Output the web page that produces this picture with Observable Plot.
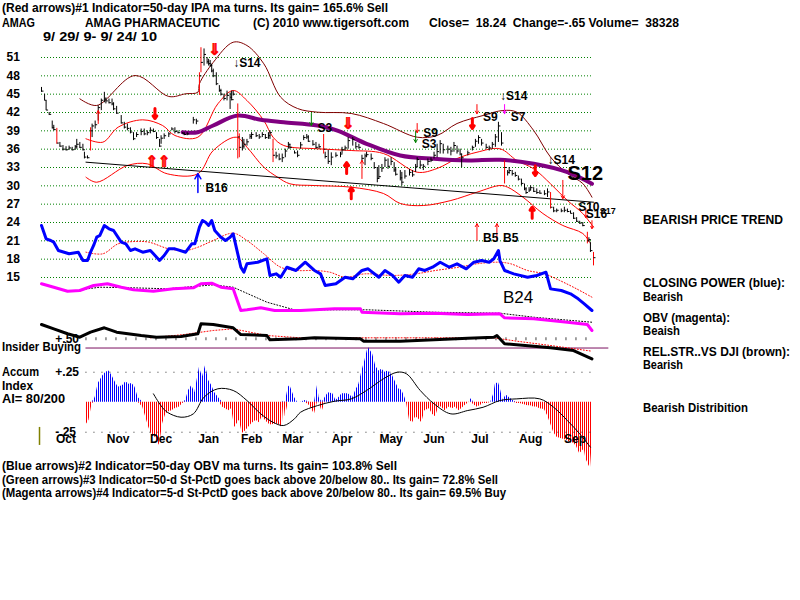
<!DOCTYPE html>
<html><head><meta charset="utf-8">
<script src="https://cdn.jsdelivr.net/npm/d3@7"></script>
<script src="https://cdn.jsdelivr.net/npm/@observablehq/plot@0.6"></script>
<style>
body{margin:0;background:#fff;width:800px;height:600px;position:relative;overflow:hidden;font-family:"Liberation Sans",Arial,sans-serif;}
.t{position:absolute;white-space:pre;font-size:12px;font-weight:bold;line-height:14px;color:#000;transform-origin:left center;}
#chart{position:absolute;left:0;top:48px;}
</style></head><body>
<div id="chart"></div>
<div class="t" style="left:2px;top:1px" data-w="386">(Red arrows)#1 Indicator=50-day IPA ma turns. Its gain= 165.6% Sell</div>
<div class="t" style="left:2px;top:16px" data-w="33">AMAG</div>
<div class="t" style="left:85px;top:16px" data-w="135">AMAG PHARMACEUTIC</div>
<div class="t" style="left:253px;top:16px" data-w="156">(C) 2010 www.tigersoft.com</div>
<div class="t" style="left:429px;top:16px" data-w="250">Close=  18.24  Change=-.65 Volume=  38328</div>
<div class="t" style="left:43px;top:30px" data-w="114">9/ 29/ 9- 9/ 24/ 10</div>
<div class="t" style="left:643px;top:213px" data-w="140">BEARISH PRICE TREND</div>
<div class="t" style="left:643px;top:276px" data-w="142">CLOSING POWER (blue):</div>
<div class="t" style="left:643px;top:290px" data-w="40">Bearish</div>
<div class="t" style="left:643px;top:311px" data-w="87">OBV (magenta):</div>
<div class="t" style="left:643px;top:324px" data-w="37">Beaish</div>
<div class="t" style="left:643px;top:345px" data-w="147">REL.STR..VS DJI (brown):</div>
<div class="t" style="left:643px;top:358px" data-w="40">Bearish</div>
<div class="t" style="left:643px;top:401px" data-w="105">Bearish Distribition</div>
<div class="t" style="left:2px;top:340px" data-w="79">Insider Buying</div>
<div class="t" style="left:2px;top:365px" data-w="37">Accum</div>
<div class="t" style="left:2px;top:379px" data-w="31">Index</div>
<div class="t" style="left:2px;top:392px" data-w="63">AI= 80/200</div>
<div class="t" style="left:2px;top:459px" data-w="395">(Blue arrows)#2 Indicator=50-day OBV ma turns. Its gain= 103.8% Sell</div>
<div class="t" style="left:2px;top:473px" data-w="496">(Green arrows)#3 Indicator=50-d St-PctD goes back above 20/below 80.. Its gain= 72.8% Sell</div>
<div class="t" style="left:2px;top:486px" data-w="504">(Magenta arrows)#4 Indicator=5-d St-PctD goes back above 20/below 80.. Its gain= 69.5% Buy</div>
<script>
// ---------- DATA (x = calendar day since 9/29/2009, price units) ----------
const gridLevels = [15,18,21,24,27,30,33,36,39,42,45,48,51];
const months = ["Oct","Nov","Dec","Jan","Feb","Mar","Apr","May","Jun","Jul","Aug","Sep"];
const monthDays = [16,50,78,109,137,164,196,228,256,286,319,348];

// [day, high, low, close]
const bars = [[0,46.1,45.3,45.5],[2,45.0,43.9,44.0],[3,43.9,42.3,42.4],[5,42.0,41.5,41.7],[7,40.6,39.3,39.5],[8,39.9,39.0,39.2],[10,39.4,36.8,37.0],[12,37.1,36.3,36.5],[14,36.6,35.7,36.0],[16,36.4,35.7,35.9],[18,36.5,35.8,36.2],[20,36.3,35.7,35.9],[22,36.6,35.8,36.4],[23,37.6,36.0,36.8],[25,37.1,36.1,36.3],[27,36.8,35.7,35.9],[28,35.5,34.4,34.7],[30,34.9,34.4,34.6],[32,39.5,35.7,39.0],[33,40.1,37.9,39.8],[35,40.6,39.3,40.0],[37,43.1,40.6,42.8],[39,44.2,42.3,44.0],[41,45.3,43.6,44.2],[42,44.4,43.4,43.9],[44,44.2,43.4,43.6],[46,44.2,43.1,43.4],[47,43.6,42.3,42.6],[49,43.0,41.7,41.9],[52,41.5,40.1,40.3],[54,40.4,39.3,39.6],[56,40.1,39.0,39.4],[58,39.5,38.5,38.8],[60,38.7,37.4,37.7],[62,38.7,37.9,38.4],[65,39.3,38.2,38.9],[67,39.3,38.2,38.5],[69,39.0,38.2,38.7],[71,39.5,38.5,39.1],[73,39.3,38.7,38.9],[75,38.7,37.6,37.9],[77,37.6,36.3,36.5],[78,38.2,36.8,37.8],[80,38.5,37.6,38.2],[83,38.7,37.9,38.5],[85,39.5,39.0,39.3],[87,39.5,38.5,38.9],[89,39.0,38.5,38.7],[92,38.7,38.5,38.6],[93,38.7,38.2,38.4],[95,38.7,38.2,38.5],[99,41.2,40.1,40.8],[101,40.9,40.0,40.6],[103,48.5,44.8,48.0],[104,52.6,48.5,50.2],[106,52.4,49.6,51.5],[108,51.0,49.9,50.3],[109,50.7,49.6,50.0],[110,50.5,49.4,49.7],[111,49.9,48.5,48.8],[112,49.1,47.7,48.0],[114,48.5,46.4,46.7],[116,46.4,45.3,45.6],[117,45.8,44.7,45.0],[119,45.0,43.9,44.3],[121,45.5,43.9,44.8],[123,45.2,42.5,44.5],[124,45.5,43.9,44.1],[125,45.5,44.7,45.0],[128,43.4,34.4,38.0],[129,38.5,34.6,36.3],[131,37.9,35.7,36.5],[132,37.6,36.0,36.8],[134,37.6,36.5,37.2],[136,38.4,37.6,38.1],[137,38.7,37.6,38.4],[140,38.7,37.9,38.2],[142,38.4,37.6,38.0],[144,38.7,37.9,38.4],[146,38.4,37.6,37.9],[148,38.7,37.6,38.2],[149,39.0,37.6,38.7],[151,37.6,33.8,35.0],[153,35.5,34.4,34.9],[155,35.2,34.1,34.4],[157,35.2,33.8,34.6],[159,36.0,34.6,35.7],[161,37.1,36.0,36.8],[162,36.8,36.0,36.3],[165,35.7,35.2,35.4],[167,35.7,34.6,35.0],[169,37.1,36.0,36.7],[171,38.2,37.4,37.9],[173,38.4,37.6,38.0],[174,38.2,37.1,37.3],[177,37.4,36.5,36.8],[179,37.1,36.0,36.3],[181,36.8,36.0,36.4],[184,38.4,35.2,36.0],[185,35.5,34.4,34.8],[187,35.8,33.5,34.0],[189,35.4,33.3,34.7],[192,35.4,34.6,35.0],[195,35.5,34.6,35.2],[196,36.3,35.2,35.9],[198,36.5,35.7,36.2],[200,37.9,36.0,37.4],[203,37.9,36.5,37.6],[205,37.1,36.0,36.4],[207,36.8,36.0,36.3],[209,35.0,34.0,34.5],[211,35.2,33.3,34.9],[212,35.5,34.6,35.1],[215,35.2,34.1,34.5],[217,33.8,32.7,33.0],[219,33.0,30.5,31.2],[220,33.3,31.1,31.5],[222,33.5,32.2,32.9],[224,34.6,33.0,34.2],[226,34.4,32.7,33.2],[228,34.6,33.3,34.0],[230,33.8,32.2,32.6],[231,33.0,31.6,31.9],[234,32.5,30.8,31.3],[235,32.2,30.0,30.6],[237,32.5,31.1,31.6],[240,32.7,31.6,32.2],[242,32.5,31.4,31.8],[244,33.5,32.2,33.1],[245,34.6,33.0,34.3],[247,34.1,32.7,33.4],[249,33.5,32.5,33.2],[252,34.4,33.3,34.0],[254,34.6,33.8,34.2],[256,35.5,34.4,35.0],[258,36.8,34.6,35.6],[260,37.4,35.2,36.9],[262,36.8,35.2,35.9],[265,36.5,35.2,36.0],[267,36.3,34.9,35.7],[269,37.1,35.5,36.6],[271,36.5,35.2,35.7],[273,36.0,34.9,35.2],[274,35.2,33.0,34.6],[278,35.7,34.9,35.4],[281,36.5,35.7,36.3],[283,37.6,36.3,37.3],[285,38.2,36.8,37.9],[287,37.6,36.5,37.0],[290,36.8,36.0,36.3],[292,36.5,35.7,36.2],[294,37.1,36.0,36.8],[296,38.4,36.3,38.0],[298,40.4,37.1,39.8],[300,38.7,36.5,37.0],[302,34.1,30.3,33.0],[304,32.5,31.6,32.2],[305,33.0,31.9,32.5],[307,32.5,31.6,32.0],[309,32.2,31.4,31.7],[311,31.6,30.8,31.1],[313,31.1,30.0,30.4],[315,30.3,29.2,29.5],[316,29.7,28.6,28.9],[318,29.7,28.9,29.3],[319,30.0,29.2,29.7],[321,29.7,28.9,29.1],[323,29.5,28.6,28.9],[325,29.2,28.6,28.8],[328,29.2,28.4,28.7],[330,29.5,28.1,29.0],[332,28.9,26.2,26.5],[334,26.5,25.6,25.9],[336,26.2,25.6,26.0],[339,26.2,25.6,25.9],[341,26.5,25.6,26.0],[343,26.2,25.6,25.8],[345,25.9,25.4,25.5],[347,25.6,24.5,24.7],[349,24.8,24.0,24.2],[351,24.2,23.7,23.9],[353,24.0,23.3,23.5],[356,22.4,20.5,21.0],[357,21.5,20.8,21.2],[358,20.7,19.1,19.4],[360,19.1,16.9,18.24]];
const signalDays = [10,32,103,104,128,129,151,184,302,332,356,360];

const upperOuter = [[25,44.24],[36,43.15],[61,48.05],[83,44.62],[94,45.06],[102,45.32],[103,46.7],[112,50.2],[125,53.5],[134,52.96],[145,49.97],[156,44.5],[167,42.65],[180,42.05],[202,41.84],[223,40.2],[245,37.96],[258,38.24],[271,40.2],[288,41.51],[301,42.33],[310,42.05],[321,39.05],[332,34.69],[343,32.02],[353,30.38],[359,28.14]];
const upperInner = [[29,37.7],[40,37.14],[50,39.6],[66,40.8],[79,39.87],[87,38.24],[102,37.96],[115,43.42],[125,45.6],[134,43.96],[145,40.69],[151,37.96],[158,36.6],[180,36.06],[202,35.78],[223,35.29],[245,32.23],[258,32.84],[271,34.47],[284,35.5],[299,36.06],[310,34.15],[321,32.79],[332,30.33],[343,27.6],[353,25.47],[360,23.23]];
const lowerInner = [[29,31.41],[36,30.59],[56,33.33],[69,33.6],[82,31.97],[102,31.97],[112,35.78],[127,37.96],[134,36.32],[145,33.05],[154,31.41],[162,30.33],[178,30.05],[202,29.78],[223,28.75],[234,27.11],[249,26.78],[267,27.6],[284,28.96],[299,30.05],[304,29.78],[314,28.14],[327,25.47],[340,23.51],[353,22.2],[358,20.56]];
const maPrice = [[92,38.78],[102,38.78],[112,39.87],[128,41.51],[143,40.8],[158,40.41],[180,39.87],[193,39.05],[212,36.88],[234,34.96],[256,34.42],[278,34.15],[299,34.26],[321,33.6],[343,32.23],[359,30.33]];
const trendLine = [[29,33.87],[360,27.32]];

const closingPower = [[0,23.51],[3,21.33],[6,21.05],[8,20.78],[11,19.42],[18,18.88],[24,19.14],[27,17.78],[30,17.78],[32,19.14],[34,20.24],[36,21.6],[38,21.87],[41,23.51],[44,22.97],[47,22.69],[52,20.78],[55,20.51],[58,19.42],[61,19.69],[66,19.14],[71,19.42],[73,18.88],[77,17.78],[80,18.6],[83,19.69],[87,19.69],[94,19.14],[98,20.51],[100,20.51],[103,23.23],[105,24.33],[107,24.05],[109,23.51],[111,24.33],[113,22.69],[117,21.6],[120,21.05],[123,21.6],[125,22.15],[128,18.88],[130,16.7],[132,15.87],[134,17.24],[141,17.5],[147,18.06],[149,15.33],[153,15.6],[156,15.05],[160,16.68],[166,16.15],[172,17.5],[178,16.15],[182,15.6],[185,13.69],[192,13.97],[198,15.05],[203,14.79],[209,16.15],[213,16.42],[220,15.05],[224,16.15],[229,15.33],[233,14.23],[237,15.33],[242,15.05],[246,16.42],[250,16.15],[255,16.68],[260,17.5],[266,16.68],[271,17.24],[277,16.42],[282,17.5],[287,17.78],[292,17.5],[295,18.06],[298,19.42],[299,17.78],[302,16.15],[308,15.6],[317,15.05],[323,15.33],[329,15.87],[332,13.14],[339,12.87],[345,12.33],[350,11.51],[354,10.69],[359,9.6]];
const closingPowerMA = [[29,19.14],[40,18.88],[50,20.51],[61,20.89],[70,20.78],[83,19.69],[94,19.42],[102,19.96],[112,21.05],[125,22.25],[134,21.05],[145,18.88],[156,16.68],[167,16.15],[178,16.15],[188,15.87],[198,15.05],[211,15.6],[229,15.33],[244,15.6],[257,16.15],[272,16.68],[284,17.24],[298,17.5],[306,17.24],[317,16.15],[328,15.6],[338,14.51],[349,13.14],[359,11.78]];
const obv = [[0,13.97],[8,13.41],[17,12.76],[25,12.87],[34,13.69],[43,13.97],[52,13.41],[60,12.99],[73,12.76],[86,13.15],[99,13.31],[104,13.97],[111,14.07],[117,13.41],[125,13.15],[130,9.6],[134,9.71],[143,10.04],[152,9.6],[169,9.6],[191,9.88],[208,9.88],[209,9.32],[234,9.06],[256,9.16],[278,8.94],[299,9.06],[302,8.4],[321,8.24],[343,7.68],[356,7.31],[359,6.33]];
const obvMA = [[25,12.99],[38,13.41],[60,13.31],[82,13.15],[112,13.8],[125,13.41],[147,10.96],[165,9.71],[213,9.71],[256,9.32],[299,9.16],[321,8.5],[359,7.68]];
const relStrength = [[0,7.31],[8,6.6],[17,5.79],[25,5.23],[32,6.05],[41,6.77],[49,6.05],[65,5.51],[75,5.23],[91,5.35],[102,5.79],[104,7.42],[112,7.31],[125,6.77],[130,5.67],[147,5.51],[149,4.8],[169,4.97],[178,5.13],[208,4.97],[210,4.58],[234,4.58],[256,4.8],[278,5.07],[295,5.23],[297,5.51],[302,4.15],[321,3.76],[332,3.5],[347,3.05],[359,1.69]];
const relStrengthMA = [[71,5.13],[93,5.67],[112,6.33],[125,6.6],[147,5.51],[169,5.13],[295,5.13],[310,4.58],[332,3.87],[359,2.94]];
const insiderLevel = 3.46, insiderSpan = [29,370], plus50Level = 4.97;

// Accumulation index [day, value]
const accum = [[29,-0.19],[31,-0.15],[33,-0.01],[35,0.04],[37,0.155],[40,0.22],[42,0.25],[44,0.26],[46,0.22],[48,0.17],[50,0.125],[53,0.14],[55,0.17],[57,0.15],[59,0.155],[61,0.125],[63,0.04],[66,-0.04],[68,-0.125],[70,-0.21],[72,-0.28],[74,-0.29],[77,-0.36],[79,-0.18],[81,-0.1],[83,-0.08],[85,-0.07],[87,-0.055],[90,-0.04],[92,-0.01],[94,0.015],[96,0.1],[98,0.14],[100,0.08],[103,0.29],[105,0.21],[107,0.305],[109,0.18],[111,0.14],[113,0.08],[116,0.03],[118,-0.04],[120,-0.055],[122,-0.07],[124,-0.055],[126,-0.21],[129,-0.15],[131,-0.26],[133,-0.24],[135,-0.21],[137,-0.18],[140,-0.15],[142,-0.17],[144,-0.12],[146,-0.15],[148,-0.18],[150,-0.19],[153,-0.18],[155,-0.19],[157,-0.21],[158,0.01],[159,-0.12],[161,0.125],[162,0.14],[165,0.04],[167,0.0],[169,0.0],[172,0.015],[175,-0.03],[178,-0.1],[180,0.14],[181,0.04],[183,-0.08],[185,0.04],[187,0.08],[190,0.07],[192,0.015],[194,0.04],[196,0.07],[198,0.07],[200,0.07],[203,0.04],[205,0.1],[207,0.15],[209,0.26],[211,0.35],[213,0.46],[216,0.4],[218,0.3],[220,0.26],[222,0.275],[224,0.25],[226,0.26],[229,0.22],[231,0.165],[233,0.11],[235,0.1],[237,0.04],[238,0.0],[240,-0.15],[242,-0.17],[244,-0.12],[246,-0.14],[248,-0.17],[250,-0.07],[253,-0.055],[255,-0.1],[257,-0.12],[259,-0.04],[261,-0.04],[263,-0.07],[266,-0.04],[268,-0.055],[270,-0.04],[272,-0.07],[274,-0.055],[276,-0.03],[279,0.0],[280,0.03],[282,-0.02],[284,-0.04],[286,-0.03],[288,-0.01],[291,-0.01],[293,0.0],[295,0.07],[296,0.15],[298,0.165],[299,0.125],[301,0.015],[303,0.06],[305,0.04],[308,0.01],[310,-0.01],[312,-0.01],[315,-0.02],[317,-0.03],[319,-0.03],[321,-0.04],[323,-0.04],[325,-0.055],[328,-0.06],[330,-0.11],[332,-0.18],[334,-0.25],[336,-0.29],[338,-0.3],[341,-0.31],[343,-0.32],[345,-0.34],[347,-0.34],[349,-0.37],[351,-0.43],[354,-0.39],[355,-0.47],[358,-0.555],[359,-0.37]];
const accumMA = [[73,0.07],[78,-0.03],[82,-0.083],[91,-0.125],[99,-0.097],[106,0.042],[115,0.112],[125,0.098],[134,0.014],[143,-0.097],[151,-0.167],[158,-0.194],[165,-0.138],[169,-0.083],[180,-0.028],[191,0.008],[202,0.028],[212,0.098],[223,0.195],[232,0.25],[238,0.237],[247,0.098],[256,-0.013],[267,-0.097],[278,-0.069],[288,-0.042],[299,0.014],[310,0.028],[325,0.028],[334,-0.042],[343,-0.153],[351,-0.263],[358,-0.375]];
const accumLevels = [0.25,-0.25];

// signals: [day, from, to]
const thickRedArrows = [[74,42.65,41.0],[199,32.0,33.8],[202,27.9,29.7],[281,41.0,39.4],[322,33.3,31.7],[320,24.7,26.5]];
const thinRedArrows = [[37,40.2,42.3],[209,31.2,34.15],[245,40.2,38.7],[284,43.3,41.8],[340,30.9,27.9],[355,26.3,24.8],[359,24.3,23.0],[284,21.05,23.8],[297,21.05,23.8]];
const thinGreenArrows = [[176,41.84,39.87],[244,38.9,37.1]];
const thinMagentaArrows = [[302,43.3,41.8]];
const blueArrows = [[102,28.9,32.0]];
const hollowRedArrows = [[72,34.0,"⇑"],[80,34.0,"⇑"],[113,52.3,"⇓"],[200,40.2,"⇓"]];
const signalLabels = [[125,50.1,"↓S14"],[180,39.4,"S3"],[249,38.7,"S9"],[248,36.9,"S3"],[288,41.3,"S9"],[299,44.6,"↓S14"],[306,41.3,"S7"],[330,34.15,"↓S14"],[350,26.45,"S10"],[355,25.3,"S16"],[107,29.56,"B16"],[288,21.5,"B5"],[301,21.5,"B5"]];
const bigLabels = [[343,32.0,"S12"]];
const b24Label = [[301,11.7,"B24"]];
const smallLabels = [[364,25.9,"S17"]];

// ---------- LAYOUT ----------
const W = 800, H = 432;
const pxPerDay = 552/360, leftPx = 41;
const pxPerUnit = 220/36, topPx = 57 - 48;  // price 51 sits 9px below svg top
const yTop = 51 + topPx/pxPerUnit, yBottom = 51 - (H - topPx)/pxPerUnit;
const aiZero = -5.41, aiUnit = 19.64;
const aiY = v => aiZero + v*aiUnit;
const tickDay = -22.8, subLabelDay = 9, monthLevel = -11.5;

const F = d => d[0];
const chart = Plot.plot({
  width: W, height: H,
  marginTop: 0, marginRight: 0, marginBottom: 0, marginLeft: 0,
  style: {fontFamily: "'Liberation Sans', Arial, sans-serif", background: "white", overflow: "visible"},
  x: {type: "linear", domain: [-leftPx/pxPerDay, (W-leftPx)/pxPerDay], axis: null},
  y: {type: "linear", domain: [yBottom, yTop], axis: null},
  marks: [
    // grid
    Plot.ruleY(gridLevels, {x1: 0, x2: 360, stroke: "#008000", strokeDasharray: "1,2", strokeWidth: 1}),
    Plot.text(gridLevels, {x: tickDay, y: d => d, text: d => String(d), textAnchor: "start", fontSize: 12, fontWeight: "bold", fill: "black"}),
    // accumulation index
    Plot.areaY(accum, {x: F, y1: aiZero, y2: d => aiY(Math.max(0, d[1])), fill: "url(#blueStripe)", curve: "linear"}),
    Plot.areaY(accum, {x: F, y1: aiZero, y2: d => aiY(Math.min(0, d[1])), fill: "url(#redStripe)", curve: "linear"}),
    Plot.ruleY(accumLevels, {x1: 29, x2: 360, y: aiY, stroke: "#333", strokeDasharray: "1,7"}),
    Plot.ruleY([plus50Level], {x1: 29, x2: 360, stroke: "#444", strokeWidth: 3, strokeDasharray: "1,9"}),
    Plot.line(accumMA, {x: F, y: d => aiY(d[1]), stroke: "black", strokeWidth: 1, curve: "catmull-rom"}),
    Plot.text(["+.50"], {x: subLabelDay, y: plus50Level, text: d => d, textAnchor: "start", fontSize: 12, fontWeight: "bold"}),
    Plot.text(["+.25", "-.25"], {x: subLabelDay, y: d => aiY(+d) , text: d => d, textAnchor: "start", fontSize: 12, fontWeight: "bold"}),
    Plot.ruleX([-1.3], {y1: aiY(-0.21), y2: aiY(-0.36), stroke: "#808000", strokeWidth: 1.5}),
    Plot.text(months, {x: (d, i) => monthDays[i], y: monthLevel, text: d => d, fontSize: 12, fontWeight: "bold"}),
    // insider line
    Plot.ruleY([insiderLevel], {x1: insiderSpan[0], x2: insiderSpan[1], stroke: "#7a1060", strokeWidth: 1}),
    // rel strength
    Plot.line(relStrengthMA, {x: F, y: d => d[1], stroke: "red", strokeDasharray: "1,2", strokeWidth: 1}),
    Plot.line(relStrength, {x: F, y: d => d[1], stroke: "black", strokeWidth: 3}),
    // OBV
    Plot.line(obvMA, {x: F, y: d => d[1], stroke: "black", strokeDasharray: "1,2", strokeWidth: 1}),
    Plot.line(obv, {x: F, y: d => d[1], stroke: "#ff00ff", strokeWidth: 3}),
    // closing power
    Plot.line(closingPowerMA, {x: F, y: d => d[1], stroke: "red", strokeDasharray: "1,2", strokeWidth: 1, curve: "catmull-rom"}),
    Plot.line(closingPower, {x: F, y: d => d[1], stroke: "#0000ff", strokeWidth: 3}),
    // bands
    Plot.line(upperOuter, {x: F, y: d => d[1], stroke: "#800000", strokeWidth: 1, curve: "catmull-rom"}),
    Plot.line(upperInner, {x: F, y: d => d[1], stroke: "red", strokeWidth: 1, curve: "catmull-rom"}),
    Plot.line(lowerInner, {x: F, y: d => d[1], stroke: "red", strokeWidth: 1, curve: "catmull-rom"}),
    Plot.line(trendLine, {x: F, y: d => d[1], stroke: "black", strokeWidth: 1}),
    Plot.line(maPrice, {x: F, y: d => d[1], stroke: "#800080", strokeWidth: 4, curve: "catmull-rom"}),
    // price bars
    Plot.ruleX(bars.filter(b => !signalDays.includes(b[0])), {x: F, y1: d => d[2], y2: d => d[1], stroke: "black", strokeWidth: 1}),
    Plot.link(bars.filter(b => !signalDays.includes(b[0])), {x1: F, x2: d => d[0] + 1.3, y1: d => d[3], y2: d => d[3], stroke: "black", strokeWidth: 1}),
    Plot.ruleX(bars.filter(b => signalDays.includes(b[0])), {x: F, y1: d => d[2], y2: d => d[1], stroke: "red", strokeWidth: 1}),
    Plot.link(bars.filter(b => signalDays.includes(b[0])), {x1: F, x2: d => d[0] + 1.3, y1: d => d[3], y2: d => d[3], stroke: "black", strokeWidth: 1}),
    // arrows
    Plot.arrow(thickRedArrows, {x: F, y1: d => d[1], y2: d => d[2], stroke: "red", strokeWidth: 3, headLength: 5, headAngle: 70}),
    Plot.arrow(thinRedArrows, {x: F, y1: d => d[1], y2: d => d[2], stroke: "red", strokeWidth: 1, headLength: 5}),
    Plot.arrow(thinGreenArrows, {x: F, y1: d => d[1], y2: d => d[2], stroke: "#008000", strokeWidth: 1, headLength: 5}),
    Plot.arrow(thinMagentaArrows, {x: F, y1: d => d[1], y2: d => d[2], stroke: "#ff00ff", strokeWidth: 1, headLength: 5}),
    Plot.arrow(blueArrows, {x: F, y1: d => d[1], y2: d => d[2], stroke: "#0000ff", strokeWidth: 1.5, headLength: 6}),
    Plot.text(hollowRedArrows, {x: F, y: d => d[1], text: d => d[2], fill: "red", stroke: "red", strokeWidth: 0.6, fontSize: 16, fontWeight: "bold", fontFamily: "DejaVu Sans"}),
    // labels
    Plot.text(signalLabels, {x: F, y: d => d[1], text: d => d[2], textAnchor: "start", fontSize: 12, fontWeight: "bold", fill: "black"}),
    Plot.text(bigLabels, {x: F, y: d => d[1], text: d => d[2], textAnchor: "start", fontSize: 20, fontWeight: "bold", fill: "black"}),
    Plot.text(b24Label, {x: F, y: d => d[1], text: d => d[2], textAnchor: "start", fontSize: 17, fill: "black"}),
    Plot.text(smallLabels, {x: F, y: d => d[1], text: d => d[2], textAnchor: "start", fontSize: 9, fontWeight: "bold", fill: "black"})
  ]
});
// stripe patterns for the accumulation histogram
const svgSel = d3.select(chart);
const defs = svgSel.insert("defs", ":first-child");
[["blueStripe", "#0000ff"], ["redStripe", "#ff0000"]].forEach(([id, c]) => {
  const p = defs.append("pattern").attr("id", id).attr("width", 2).attr("height", 4).attr("patternUnits", "userSpaceOnUse");
  p.append("rect").attr("width", 1).attr("height", 4).attr("fill", c);
});
document.getElementById("chart").appendChild(chart);

// fit text widths to the reference
document.querySelectorAll("[data-w]").forEach(el => {
  const w = el.getBoundingClientRect().width;
  if (w > 0) el.style.transform = `scaleX(${(+el.dataset.w) / w})`;
});
</script>
</body></html>
